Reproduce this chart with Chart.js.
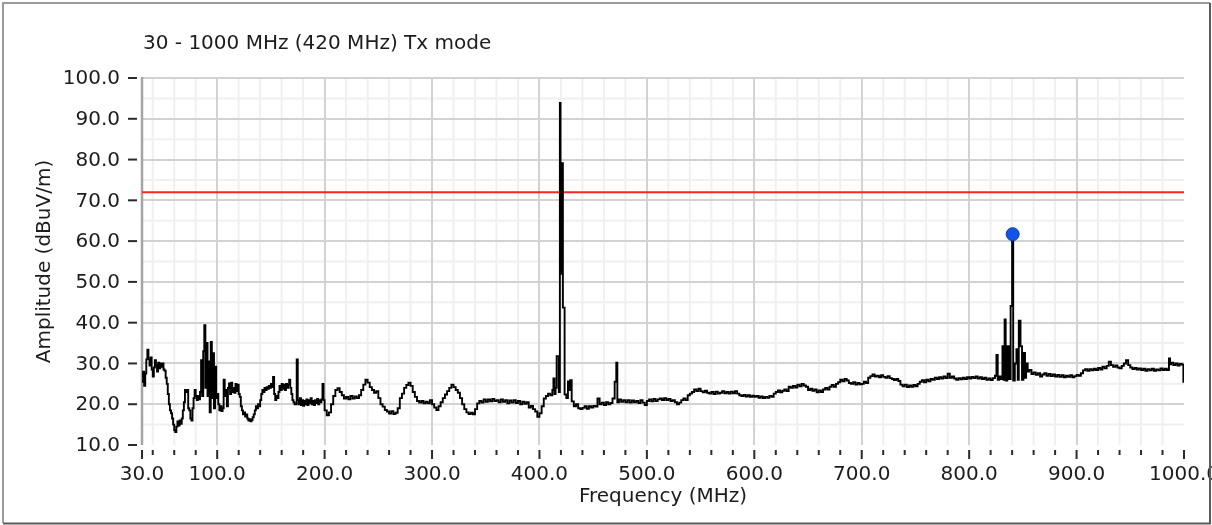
<!DOCTYPE html>
<html>
<head>
<meta charset="utf-8">
<script src="https://cdn.jsdelivr.net/npm/chart.js@4.4.0/dist/chart.umd.min.js"></script>
<style>
  html, body { margin: 0; padding: 0; background: #fff; }
  #wrap { position: relative; width: 1212px; height: 525px; }
</style>
</head>
<body>
<div id="wrap"><canvas id="emiChart" width="1212" height="525"></canvas></div>
<script>
// sweep 30 - 200 MHz, read at 1 MHz
const lowBandFreq = [
  30, 31, 32, 33, 34, 35, 36, 37, 38, 39,
  40, 41, 42, 43, 44, 45, 46, 47, 48, 49,
  50, 51, 52, 53, 54, 55, 56, 57, 58, 59,
  60, 61, 62, 63, 64, 65, 66, 67, 68, 69,
  70, 71, 72, 73, 74, 75, 76, 77, 78, 79,
  80, 81, 82, 83, 84, 85, 86, 87, 88, 89,
  90, 91, 92, 93, 94, 95, 96, 97, 98, 99,
  100, 101, 102, 103, 104, 105, 106, 107, 108, 109,
  110, 111, 112, 113, 114, 115, 116, 117, 118, 119,
  120, 121, 122, 123, 124, 125, 126, 127, 128, 129,
  130, 131, 132, 133, 134, 135, 136, 137, 138, 139,
  140, 141, 142, 143, 144, 145, 146, 147, 148, 149,
  150, 151, 152, 153, 154, 155, 156, 157, 158, 159,
  160, 161, 162, 163, 164, 165, 166, 167, 168, 169,
  170, 171, 172, 173, 174, 175, 176, 177, 178, 179,
  180, 181, 182, 183, 184, 185, 186, 187, 188, 189,
  190, 191, 192, 193, 194, 195, 196, 197, 198, 199
];
const lowBandAmp = [
  25.5, 28.0, 24.5, 27.5, 31.0, 33.4, 31.0, 29.5, 31.5, 28.5,
  26.8, 29.0, 30.8, 29.5, 28.0, 30.2, 28.8, 30.0, 29.2, 30.0,
  28.5, 28.2, 26.5, 25.0, 22.5, 20.0, 18.5, 17.8, 16.5, 15.0,
  13.6, 13.2, 14.5, 15.8, 14.8, 16.0, 15.2, 16.5, 18.5, 20.5,
  23.5, 23.0, 23.5, 19.0, 18.5, 16.5, 16.0, 19.0, 21.5, 23.5,
  22.0, 21.0, 22.0, 21.2, 23.0, 30.8, 22.0, 33.0, 39.4, 24.0,
  35.0, 22.0, 30.5, 18.0, 35.3, 21.5, 32.5, 19.0, 29.2, 21.5,
  22.5, 20.0, 18.5, 19.5, 18.3, 19.0, 26.0, 22.0, 23.5, 19.5,
  24.0, 25.1, 22.5, 25.3, 23.0, 24.0, 22.8, 25.0, 23.2, 24.8,
  22.5, 21.8, 19.5, 18.5, 17.5, 18.0, 17.0, 17.5, 16.5, 16.0,
  16.3, 15.8, 16.2, 16.8, 17.5, 18.5, 19.5, 19.0, 20.0, 19.5,
  21.0, 22.5, 23.5, 23.0, 24.0, 23.5, 24.2, 23.8, 24.5, 24.0,
  25.0, 24.2, 26.7, 22.5, 21.0, 22.0, 21.5, 23.0, 24.5, 23.5,
  25.0, 23.8, 24.8, 23.5, 25.0, 24.0, 24.8, 26.0, 24.0, 22.5,
  21.0, 20.5, 20.0, 20.0, 31.0, 21.0, 20.0, 21.5, 19.8, 21.0,
  19.6, 20.8, 20.0, 21.2, 19.8, 21.0, 20.2, 21.5, 20.0, 20.8,
  19.8, 21.0, 20.3, 21.3, 20.0, 21.0, 20.5, 21.2, 25.0, 21.0
];

// 200 - 412 MHz, read at 2 MHz
const midBandFreq = [
  200, 202, 204, 206, 208, 210, 212, 214, 216, 218,
  220, 222, 224, 226, 228, 230, 232, 234, 236, 238,
  240, 242, 244, 246, 248, 250, 252, 254, 256, 258,
  260, 262, 264, 266, 268, 270, 272, 274, 276, 278,
  280, 282, 284, 286, 288, 290, 292, 294, 296, 298,
  300, 302, 304, 306, 308, 310, 312, 314, 316, 318,
  320, 322, 324, 326, 328, 330, 332, 334, 336, 338,
  340, 342, 344, 346, 348, 350, 352, 354, 356, 358,
  360, 362, 364, 366, 368, 370, 372, 374, 376, 378,
  380, 382, 384, 386, 388, 390, 392, 394, 396, 398,
  400, 402, 404, 406, 408, 410, 412
];
const midBandAmp = [
  18.5, 17.3, 18.0, 20.0, 22.0, 23.5, 23.9, 23.0, 22.2, 21.4,
  21.8, 21.2, 22.0, 21.4, 21.9, 21.5, 22.2, 23.5, 24.8, 26.0,
  25.3, 24.2, 23.5, 22.8, 23.2, 21.5, 20.0, 19.4, 18.6, 18.2,
  17.7, 18.3, 17.6, 17.9, 19.0, 21.5, 22.6, 24.0, 24.7, 25.3,
  24.5, 23.0, 21.8, 20.8, 20.4, 20.8, 20.2, 20.6, 20.2, 21.0,
  20.0, 19.2, 18.6, 19.5, 20.5, 21.5, 22.4, 23.2, 24.0, 24.8,
  24.2, 23.5, 22.8, 21.5, 20.0, 18.8, 18.0, 17.6, 17.9, 17.5,
  18.8, 20.2, 20.8, 20.4, 21.2, 20.6, 21.2, 20.7, 21.3, 20.8,
  21.0, 20.5, 21.2, 20.6, 21.0, 20.2, 20.9, 20.4, 21.0, 20.3,
  20.8, 20.0, 20.6, 20.1, 20.5, 19.2, 19.6, 18.8, 18.2, 16.9,
  17.8, 19.5, 21.4, 22.0, 22.6, 22.2, 23.5
];

// carrier at 420 MHz
const carrierFreq = [
  413, 414, 415, 416, 418, 419, 419.6, 420.0, 420.4, 420.8,
  421.2, 421.8, 423.4, 425, 426.5, 427.5, 428.5, 430, 432, 434,
  436, 438
];
const carrierAmp = [
  26.3, 22.5, 24.0, 31.8, 23.0, 93.9, 79.1, 52.0, 79.1, 56.0,
  79.1, 43.7, 22.4, 21.5, 25.6, 23.5, 25.9, 20.7, 19.5, 20.0,
  19.0, 18.8
];

// 440 - 822 MHz
const upperFreq = [
  440, 442, 444, 446, 448, 450, 452, 454, 456, 458,
  460, 462, 464, 466, 468, 470, 471.5, 472.5, 474, 476,
  478, 480, 482, 484, 486, 488, 490, 492, 494, 496,
  498,
  500, 502, 504, 506, 508, 510, 512, 514, 516, 518,
  520, 522, 524, 526, 528, 530, 532, 534, 536, 538,
  540, 542, 544, 546, 548, 550, 552, 554, 556, 558,
  560, 562, 564, 566, 568, 570, 572, 574, 576, 578,
  580, 582, 584, 586, 588, 590, 592, 594, 596, 598,
  600, 602, 604, 606, 608, 610, 612, 614, 616, 618,
  620, 622, 624, 626, 628, 630, 632, 634, 636, 638,
  640, 642, 644, 646, 648, 650, 652, 654, 656, 658,
  660, 662, 664, 666, 668, 670, 672, 674, 676, 678,
  680, 682, 684, 686, 688, 690, 692, 694, 696, 698,
  700, 702, 704, 706, 708, 710, 712, 714, 716, 718,
  720, 722, 724, 726, 728, 730, 732, 734, 736, 738,
  740, 742, 744, 746, 748, 750, 752, 754, 756, 758,
  760, 762, 764, 766, 768, 770, 772, 774, 776, 778,
  780, 782, 784, 786, 788, 790, 792, 794, 796, 798,
  800, 802, 804, 806, 808, 810, 812, 814, 816, 818,
  820, 822
];
const upperAmp = [
  19.1, 19.5, 18.9, 19.5, 19.2, 19.6, 19.4, 21.4, 20.0, 20.4,
  19.8, 20.5, 20.0, 20.3, 21.4, 25.5, 30.2, 20.5, 21.2, 20.6,
  21.0, 20.5, 21.0, 20.4, 20.9, 20.5, 20.8, 20.3, 21.0, 20.4,
  19.8,
  20.8, 21.2, 20.7, 21.3, 20.8, 21.2, 21.4, 21.0, 21.5, 21.0,
  21.3, 20.8, 21.0, 20.5, 20.0, 20.4, 21.0, 21.4, 21.0, 22.2,
  22.6, 23.0, 23.6, 23.2, 23.8, 23.2, 22.9, 23.3, 22.8, 22.6,
  23.0, 22.5, 23.1, 22.6, 22.8, 23.2, 22.7, 23.0, 22.6, 23.1,
  22.7, 23.2, 22.6, 22.2, 22.0, 22.3, 21.9, 22.2, 21.8, 22.1,
  21.8, 22.0, 21.6, 21.9, 21.5, 21.8, 21.6, 22.0, 21.8, 22.6,
  23.0, 23.4, 22.9, 23.3, 23.6, 23.2, 24.3, 24.0, 24.5, 24.1,
  24.8, 24.4, 25.0, 24.6, 24.3, 23.5, 23.8, 23.3, 23.6, 22.9,
  23.4, 23.0, 23.6, 24.0, 23.6, 24.3, 24.7, 24.3, 25.0, 25.4,
  26.0, 25.6, 26.2, 25.8, 25.2, 25.0, 25.4, 24.8, 25.2, 24.9,
  25.0, 25.5, 25.2, 26.5, 26.9, 27.3, 26.8, 27.0, 26.6, 27.1,
  26.7, 26.5, 26.9, 26.4, 26.2, 25.9, 26.2, 25.7, 24.8, 24.4,
  24.8, 24.2, 24.6, 24.3, 24.7, 24.4, 25.0, 25.5, 25.9, 25.4,
  26.0, 25.6, 26.2, 26.0, 26.5, 26.2, 26.6, 26.3, 26.8, 26.4,
  27.5, 26.5, 26.8, 26.3, 26.0, 26.4, 26.1, 26.5, 26.2, 26.6,
  26.3, 26.7, 26.4, 26.8, 26.3, 26.6, 26.2, 26.5, 26.0, 26.3,
  25.9, 26.4
];

// second harmonic cluster around 840 MHz
const harmonicFreq = [
  824, 825.4, 826.6, 828, 829.5, 831, 832, 833, 834, 835.5,
  837, 838.6, 840, 841, 842.5, 844, 845.2, 846.2, 847.8, 849.2,
  850.5, 852, 853, 854.5, 856, 858
];
const harmonicAmp = [
  27.0, 32.1, 26.0, 26.8, 26.2, 34.2, 26.0, 40.8, 25.8, 34.2,
  26.2, 44.1, 61.7, 25.8, 30.0, 33.5, 26.0, 40.5, 34.2, 26.0,
  32.6, 26.5, 30.0, 28.0, 28.4, 27.4
];

// 860 - 1000 MHz
const topFreq = [
  860, 862, 864, 866, 868, 870, 872, 874, 876, 878,
  880, 882, 884, 886, 888, 890, 892, 894, 896, 898,
  900, 902, 904, 906, 908, 910, 912, 914, 916, 918,
  920, 922, 924, 926, 928, 930, 932, 934, 936, 938,
  940, 942, 944, 946, 948, 950, 952, 954, 956, 958,
  960, 962, 964, 966, 968, 970, 972, 974, 976, 978,
  980, 982, 984, 986, 987, 988, 990, 992, 994, 996,
  998, 999.4, 1000
];
const topAmp = [
  27.8, 27.2, 27.6, 26.8, 27.3, 27.6, 27.0, 27.4, 26.9, 27.3,
  26.8, 27.2, 26.7, 27.1, 26.6, 27.0, 26.7, 27.1, 26.6, 26.9,
  27.2, 27.0, 27.6, 28.3, 28.6, 28.2, 28.6, 28.3, 28.7, 28.4,
  28.9, 28.5, 29.2, 28.8, 29.4, 30.4, 29.6, 29.2, 29.5, 29.0,
  28.8, 29.4, 30.0, 30.8, 29.6, 29.0, 28.6, 28.9, 28.5, 28.8,
  28.4, 28.7, 28.2, 28.6, 28.3, 28.7, 28.2, 28.5, 28.3, 28.8,
  28.4, 28.7, 28.4, 31.2, 29.8, 30.2, 29.6, 30.0, 29.5, 29.9,
  29.7, 25.5, 25.5
];

const limitFreq = [30, 1000];
const limitAmp = [72.0, 72.0];
const markerFreq = [840.5];
const markerAmp = [61.7];

const xTicks = [30, 100, 200, 300, 400, 500, 600, 700, 800, 900, 1000];
const xTickLabels = ["30.0", "100.0", "200.0", "300.0", "400.0", "500.0", "600.0", "700.0", "800.0", "900.0", "1000.0"];
const yTicks = [10, 20, 30, 40, 50, 60, 70, 80, 90, 100];
const yTickLabels = ["10.0", "20.0", "30.0", "40.0", "50.0", "60.0", "70.0", "80.0", "90.0", "100.0"];

const titleText = "30 - 1000 MHz (420 MHz) Tx mode";
const xTitle = "Frequency (MHz)";
const yTitle = "Amplitude (dBuV/m)";

const traceFreq = lowBandFreq.concat(midBandFreq, carrierFreq, upperFreq, harmonicFreq, topFreq);
const traceAmp = lowBandAmp.concat(midBandAmp, carrierAmp, upperAmp, harmonicAmp, topAmp);

function toPoints(xs, ys) {
  return xs.map((f, i) => ({ x: f, y: ys[i] }));
}

// minor grid every 20 MHz / 5 dB
const xMinor = [];
for (let f = 40; f < 1000; f += 20) if (f % 100 !== 0) xMinor.push(f);
const yMinor = [15, 25, 35, 45, 55, 65, 75, 85, 95];

const FONT = '20px "DejaVu Sans"';
const TEXT = "#1c1c1c";

const decor = {
  id: "decor",
  beforeDraw(chart) {
    const { ctx, chartArea: a, scales } = chart;
    ctx.save();
    ctx.strokeStyle = "#f0f0f0";
    ctx.lineWidth = 2;
    ctx.beginPath();
    xMinor.forEach(v => {
      const px = scales.x.getPixelForValue(v);
      ctx.moveTo(px, a.top); ctx.lineTo(px, a.bottom);
    });
    yMinor.forEach(v => {
      const py = scales.y.getPixelForValue(v);
      ctx.moveTo(a.left, py); ctx.lineTo(a.right, py);
    });
    ctx.stroke();
    ctx.restore();
  },
  beforeDatasetsDraw(chart) {
    const { ctx, chartArea: a } = chart;
    ctx.save();
    ctx.strokeStyle = "#a4a4a4";
    ctx.lineWidth = 2.5;
    ctx.beginPath();
    ctx.moveTo(a.left, a.top - 1);
    ctx.lineTo(a.left, a.bottom);
    ctx.stroke();
    ctx.restore();
  },
  afterDraw(chart) {
    const { ctx, chartArea: a, scales } = chart;
    ctx.save();
    ctx.fillStyle = TEXT;
    ctx.strokeStyle = "#2a2a2a";
    ctx.font = FONT;

    // y ticks + labels
    ctx.lineWidth = 2;
    ctx.textAlign = "right";
    ctx.textBaseline = "middle";
    yTicks.forEach((v, i) => {
      const py = scales.y.getPixelForValue(v);
      ctx.beginPath();
      ctx.moveTo(a.left - 14, py); ctx.lineTo(a.left - 5, py);
      ctx.stroke();
      ctx.fillText(yTickLabels[i], a.left - 22, py + 1);
    });

    // x ticks: major + minor
    const tickTop = a.bottom + 5;
    ctx.beginPath();
    xTicks.forEach(v => {
      const px = scales.x.getPixelForValue(v);
      ctx.moveTo(px, tickTop); ctx.lineTo(px, tickTop + 9);
    });
    xMinor.forEach(v => {
      const px = scales.x.getPixelForValue(v);
      ctx.moveTo(px, tickTop); ctx.lineTo(px, tickTop + 5);
    });
    ctx.stroke();
    ctx.textAlign = "center";
    xTicks.forEach((v, i) => {
      const px = scales.x.getPixelForValue(v);
      ctx.fillText(xTickLabels[i], px, a.bottom + 30);
    });

    // axis titles and chart title
    ctx.fillText(xTitle, (a.left + a.right) / 2, a.bottom + 52);
    ctx.save();
    ctx.translate(45, (a.top + a.bottom) / 2);
    ctx.rotate(-Math.PI / 2);
    ctx.fillText(yTitle, 0, 0);
    ctx.restore();
    ctx.textAlign = "left";
    ctx.fillText(titleText, a.left + 1, 44);

    // outer frame
    ctx.lineWidth = 2;
    ctx.strokeStyle = "#9c9c9c";
    ctx.beginPath();
    ctx.moveTo(3, 523); ctx.lineTo(3, 3); ctx.lineTo(1210, 3);
    ctx.stroke();
    ctx.strokeStyle = "#5a5a5a";
    ctx.beginPath();
    ctx.moveTo(1210, 3); ctx.lineTo(1210, 523.5); ctx.lineTo(3, 523.5);
    ctx.stroke();
    ctx.restore();
  }
};

const gridColor = "#d2d2d2";

new Chart(document.getElementById("emiChart"), {
  type: "line",
  data: {
    datasets: [
      {
        label: "Marker",
        data: toPoints(markerFreq, markerAmp),
        showLine: false,
        pointRadius: 6.5,
        pointBackgroundColor: "#1455e4",
        pointBorderColor: "#0b3cb0",
        pointBorderWidth: 1,
        order: 0
      },
      {
        label: "Trace",
        data: toPoints(traceFreq, traceAmp),
        borderColor: "#000000",
        borderWidth: 1.9,
        pointRadius: 0,
        stepped: true,
        tension: 0,
        order: 1
      },
      {
        label: "Limit",
        data: toPoints(limitFreq, limitAmp),
        borderColor: "#ff2424",
        borderWidth: 2,
        pointRadius: 0,
        order: 2
      }
    ]
  },
  options: {
    responsive: false,
    animation: false,
    layout: { padding: { top: 78, right: 28, bottom: 0, left: 0 } },
    plugins: {
      legend: { display: false },
      tooltip: { enabled: false },
      title: { display: false }
    },
    scales: {
      x: {
        type: "linear",
        min: 30,
        max: 1000,
        afterBuildTicks: s => { s.ticks = xTicks.map(v => ({ value: v })); },
        afterFit: s => { s.height = 80; },
        ticks: { display: false },
        border: { display: false },
        grid: {
          drawTicks: false,
          lineWidth: 2,
          color: c => (c.tick && (c.tick.value === 30 || c.tick.value === 1000)) ? "rgba(0,0,0,0)" : gridColor
        }
      },
      y: {
        type: "linear",
        min: 10,
        max: 100,
        afterBuildTicks: s => { s.ticks = yTicks.map(v => ({ value: v })); },
        afterFit: s => { s.width = 142; },
        ticks: { display: false },
        border: { display: false },
        grid: {
          drawTicks: false,
          lineWidth: 2,
          color: c => (c.tick && c.tick.value === 10) ? "rgba(0,0,0,0)" : gridColor
        }
      }
    }
  },
  plugins: [decor]
});
</script>
</body>
</html>
